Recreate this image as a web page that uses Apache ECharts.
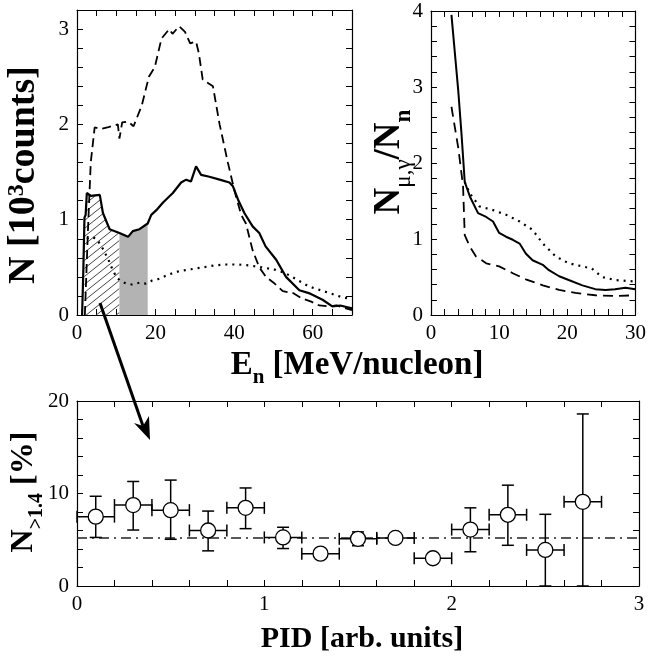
<!DOCTYPE html>
<html>
<head>
<meta charset="utf-8">
<script src="https://cdn.jsdelivr.net/npm/echarts@6/dist/echarts.min.js"></script>
<style>
html, body { margin: 0; padding: 0; background: #fff; }
#main { width: 649px; height: 658px; }
</style>
</head>
<body>
<div id="main"></div>
<script>
// top left: N vs E_n  [E, N/1000]
var enSolid = [[1.3,0],[1.6,0.45],[1.9,1.02],[2.2,1.05],[2.5,1.28],[3.5,1.25],[5.8,1.26],[6.6,1.07],[8.3,0.9],[10.8,0.86],[13,0.82],[14.2,0.88],[15.9,0.9],[18,0.96],[18.9,1.05],[20.2,1.1],[21.9,1.18],[24.4,1.28],[26.5,1.39],[27.8,1.42],[29,1.4],[30.3,1.56],[31.6,1.47],[33.7,1.45],[36.3,1.42],[38.8,1.39],[39.7,1.35],[41,1.21],[42.6,1.07],[44.7,0.93],[46.4,0.86],[48,0.72],[50.7,0.58],[53.2,0.4],[56.6,0.26],[59,0.23],[62.5,0.16],[65,0.09],[67,0.1],[70,0.07]];
var enDashed = [[2,0],[2.8,0.9],[3.5,1.6],[4.5,1.97],[6,1.95],[8,1.97],[10.4,2.0],[10.8,1.85],[11.5,2.02],[13,2.03],[14.4,1.98],[16.5,2.2],[18.3,2.5],[19.8,2.6],[21.5,2.9],[23.5,3.0],[24.3,2.95],[26,3.03],[27.5,2.97],[28.8,2.85],[30.3,2.87],[31,2.75],[32,2.47],[34.6,2.4],[36.3,2.0],[38.4,1.6],[40.1,1.3],[41.8,1.05],[43,0.96],[44.7,0.68],[46.4,0.5],[48.1,0.4],[50.3,0.33],[52.4,0.25],[55,0.23],[57,0.18],[59.6,0.14],[61.7,0.1],[64.2,0.09],[66,0.1],[70,0.05]];
var enDotted = [[2.5,0.8],[3.5,0.82],[5,0.8],[6.5,0.7],[8,0.58],[9,0.48],[10,0.4],[11,0.36],[12.5,0.33],[14,0.32],[16,0.34],[17.5,0.33],[19,0.36],[21,0.38],[23,0.42],[26,0.46],[29,0.48],[32,0.5],[35,0.52],[38,0.53],[41,0.53],[44,0.52],[47,0.5],[50,0.48],[53,0.44],[56,0.37],[59,0.3],[62,0.26],[65,0.22],[68,0.18],[70,0.17]];
var hatchFrom = 1.9, hatchTo = 10.8, greyTo = 18;

// top right: N_mu,gamma / N_n vs E_n
var ratioSolid = [[3,3.95],[3.5,3.45],[4,2.95],[4.5,2.35],[4.95,1.75],[5.7,1.56],[6.9,1.34],[8.1,1.29],[9.1,1.23],[10,1.08],[11,1.03],[12,0.99],[13,0.94],[13.9,0.81],[14.9,0.72],[16.4,0.66],[17.3,0.59],[18.8,0.51],[20.2,0.46],[22.2,0.39],[24.1,0.34],[25.6,0.33],[27,0.34],[28.5,0.36],[30,0.34]];
var ratioDotted = [[4.95,1.75],[5.7,1.6],[7.1,1.43],[9.1,1.38],[11,1.32],[13,1.23],[14.9,1.12],[16.4,0.94],[18.3,0.77],[20.2,0.68],[22.2,0.64],[23.6,0.61],[25.1,0.5],[27,0.46],[30,0.44]];
var ratioDashed = [[3,2.74],[4,2.2],[4.7,1.7],[4.95,1.05],[5.7,0.9],[6.6,0.77],[8.1,0.68],[10,0.64],[12,0.55],[13.9,0.47],[16.4,0.39],[18.8,0.33],[21.2,0.29],[24.1,0.26],[27,0.25],[30,0.26]];

// bottom: N_>1.4 [%] vs PID
var pid      = [0.1, 0.3, 0.5, 0.7, 0.9, 1.1, 1.3, 1.5, 1.7, 1.9, 2.1, 2.3, 2.5, 2.7];
var pidVal   = [7.5, 8.75, 8.2, 6.0, 8.45, 5.25, 3.5, 5.1, 5.2, 3.0, 6.1, 7.7, 3.9, 9.1];
var pidLow   = [5.25, 6.05, 5.05, 3.8, 6.2, 4.05, 3.5, 4.35, 5.2, 3.0, 3.7, 4.4, 0, 0];
var pidHigh  = [9.7, 11.3, 11.45, 8.1, 10.6, 6.35, 3.5, 5.85, 5.2, 3.0, 8.45, 10.9, 7.75, 18.6];
var pidHalfWidth = 0.1;
var meanLevel = 5.2;

var FONT = 'Liberation Serif';

function hatchPattern() {
  var c = document.createElement('canvas');
  c.width = 10; c.height = 8;
  var ctx = c.getContext('2d');
  ctx.strokeStyle = '#444';
  ctx.lineWidth = 1;
  ctx.beginPath();
  ctx.moveTo(-1, 8.8); ctx.lineTo(11, -0.8);
  ctx.moveTo(-1, 0.8); ctx.lineTo(1, -0.8);
  ctx.moveTo(9, 8.8); ctx.lineTo(11, 7.2);
  ctx.stroke();
  return c;
}

function makeAxis(grid, pos, min, max, step, major, labels) {
  return {
    type: 'value', gridIndex: grid, position: pos,
    min: min, max: max, interval: step,
    axisLine: { show: true, onZero: false, lineStyle: { color: '#000', width: 1.2 } },
    axisTick: { show: true, inside: true, length: 6, lineStyle: { color: '#000', width: 1 } },
    axisLabel: {
      show: labels, color: '#000', fontFamily: FONT, fontSize: 21, margin: 8,
      formatter: function (v) {
        var r = v / major;
        return Math.abs(r - Math.round(r)) < 1e-6 ? String(Math.round(v)) : '';
      }
    },
    splitLine: { show: false }
  };
}

function lineSeries(data, xi, type, width) {
  return {
    type: 'line', xAxisIndex: xi, yAxisIndex: xi, data: data,
    symbol: 'none', z: 3,
    lineStyle: { color: '#000', width: width, type: type }
  };
}

var hatchData = enSolid.filter(function (p) { return p[0] >= hatchFrom && p[0] <= hatchTo; });
var greyData = enSolid.filter(function (p) { return p[0] >= hatchTo && p[0] <= greyTo; });

var myChart = echarts.init(document.getElementById('main'));

// axis titles: b = main, s = bold subscript, r = regular subscript, p = superscript
function title(x, y, text, size, rot) {
  var s = Math.round(size * 0.63);
  var pad = [Math.round(size * 0.56 + 1), 0, 0, 0];
  return {
    type: 'text', x: x, y: y, rotation: rot || 0, z: 10,
    style: {
      text: text, align: 'center', verticalAlign: 'middle',
      rich: {
        b: { fontFamily: FONT, fontWeight: 'bold', fontSize: size, lineHeight: size + 2, verticalAlign: 'top', fill: '#000' },
        s: { fontFamily: FONT, fontWeight: 'bold', fontSize: s, lineHeight: s, verticalAlign: 'top', padding: pad, fill: '#000' },
        r: { fontFamily: FONT, fontSize: s, lineHeight: s, verticalAlign: 'top', padding: pad, fill: '#000' },
        p: { fontFamily: FONT, fontWeight: 'bold', fontSize: s, lineHeight: s, verticalAlign: 'top', fill: '#000' }
      }
    }
  };
}

myChart.setOption({
  animation: false,
  grid: [
    { left: 77, top: 10, width: 275, height: 305 },
    { left: 431, top: 11, width: 206, height: 304 },
    { left: 77, top: 401, width: 562, height: 185 }
  ],
  xAxis: [
    makeAxis(0, 'bottom', 0, 70, 5, 20, true),
    makeAxis(0, 'top', 0, 70, 5, 20, false),
    makeAxis(1, 'bottom', 0, 30, 2, 10, true),
    makeAxis(1, 'top', 0, 30, 2, 10, false),
    makeAxis(2, 'bottom', 0, 3, 0.2, 1, true),
    makeAxis(2, 'top', 0, 3, 0.2, 1, false)
  ],
  yAxis: [
    makeAxis(0, 'left', 0, 3.2, 0.2, 1, true),
    makeAxis(0, 'right', 0, 3.2, 0.2, 1, false),
    makeAxis(1, 'left', 0, 4, 0.2, 1, true),
    makeAxis(1, 'right', 0, 4, 0.2, 1, false),
    makeAxis(2, 'left', 0, 20, 2, 10, true),
    makeAxis(2, 'right', 0, 20, 2, 10, false)
  ],
  graphic: [
    title(357, 366, '{b|E}{s|n}{b| [MeV/nucleon]}', 33),
    title(362, 640, '{b|PID [arb. units]}', 30),
    title(25, 175, '{b|N [10}{p|3}{b|counts]}', 38, Math.PI / 2),
    title(390, 162, '{b|N}{r|μ,γ}{b|/N}{s|n}', 37, Math.PI / 2),
    title(25, 492, '{b|N}{s|>1.4}{b| [%]}', 32, Math.PI / 2),
    { type: 'polyline', z: 20, shape: { points: [[100, 303], [143, 426]] }, style: { stroke: '#000', lineWidth: 3, fill: null } },
    { type: 'polygon', z: 20, shape: { points: [[150, 440], [134, 423], [143, 426], [149, 416]] }, style: { fill: '#000' } }
  ],
  series: [
    {
      type: 'line', xAxisIndex: 0, yAxisIndex: 0, data: hatchData, symbol: 'none', z: 1,
      lineStyle: { width: 0 },
      areaStyle: { color: { image: hatchPattern(), repeat: 'repeat' }, opacity: 1 }
    },
    {
      type: 'line', xAxisIndex: 0, yAxisIndex: 0, data: greyData, symbol: 'none', z: 1,
      lineStyle: { width: 0 },
      areaStyle: { color: '#b3b3b3', opacity: 1 }
    },
    lineSeries(enDotted, 0, [2, 5], 2.2),
    lineSeries(enDashed, 0, [9, 5], 1.8),
    lineSeries(enSolid, 0, 'solid', 2.2),
    lineSeries(ratioDotted, 2, [2, 5], 2.2),
    lineSeries(ratioDashed, 2, [10, 6], 1.8),
    lineSeries(ratioSolid, 2, 'solid', 2),
    {
      type: 'line', xAxisIndex: 4, yAxisIndex: 4, symbol: 'none', z: 2,
      data: [[0, meanLevel], [3, meanLevel]],
      lineStyle: { color: '#222', width: 1.5, type: [10, 5, 2, 5] }
    },
    {
      type: 'custom', xAxisIndex: 4, yAxisIndex: 4, z: 3,
      data: pid.map(function (x, i) { return [x, pidVal[i], pidLow[i], pidHigh[i]]; }),
      renderItem: function (params, api) {
        var x = api.value(0), y = api.value(1), lo = api.value(2), hi = api.value(3);
        var l = api.coord([x - pidHalfWidth, y]), r = api.coord([x + pidHalfWidth, y]);
        var b = api.coord([x, lo]), t = api.coord([x, hi]);
        var cap = 6;
        var segs = [[l, r], [[l[0], l[1] - cap], [l[0], l[1] + cap]], [[r[0], r[1] - cap], [r[0], r[1] + cap]]];
        if (hi > lo) {
          segs.push([b, t], [[b[0] - cap, b[1]], [b[0] + cap, b[1]]], [[t[0] - cap, t[1]], [t[0] + cap, t[1]]]);
        }
        return {
          type: 'group',
          children: segs.map(function (s) {
            return { type: 'line', shape: { x1: s[0][0], y1: s[0][1], x2: s[1][0], y2: s[1][1] }, style: { stroke: '#000', lineWidth: 1.5 } };
          })
        };
      }
    },
    {
      type: 'scatter', xAxisIndex: 4, yAxisIndex: 4, z: 5,
      data: pid.map(function (x, i) { return [x, pidVal[i]]; }),
      symbol: 'circle', symbolSize: 15,
      itemStyle: { color: '#fff', borderColor: '#000', borderWidth: 1.3, opacity: 1 }
    }
  ]
});
</script>
</body>
</html>
